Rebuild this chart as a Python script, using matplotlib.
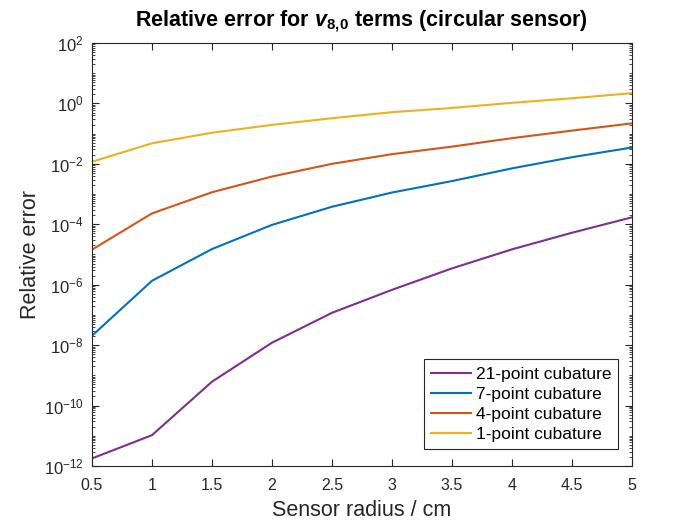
import numpy as np
import matplotlib
matplotlib.use("Agg")
import matplotlib.pyplot as plt
from matplotlib.ticker import FixedLocator, NullFormatter, LogFormatterSciNotation

plt.rcParams['font.family'] = ['Liberation Sans', 'DejaVu Sans']
plt.rcParams['mathtext.fontset'] = 'custom'
plt.rcParams['mathtext.rm'] = 'Liberation Sans'
plt.rcParams['mathtext.it'] = 'Liberation Sans:italic:bold'
plt.rcParams['mathtext.bf'] = 'Liberation Sans:bold'

radius = [0.5, 1.0, 1.5, 2.0, 2.5, 3.0, 3.5, 4.0, 4.5, 5.0]
log_err_21 = [-11.75, -10.98, -9.21, -7.92, -6.93, -6.17, -5.46, -4.83, -4.28, -3.77]
log_err_7 = [-7.69, -5.87, -4.82, -4.02, -3.42, -2.95, -2.57, -2.15, -1.78, -1.46]
log_err_4 = [-4.84, -3.64, -2.94, -2.42, -2.00, -1.68, -1.43, -1.15, -0.90, -0.66]
log_err_1 = [-1.93, -1.32, -0.97, -0.71, -0.49, -0.29, -0.15, 0.02, 0.17, 0.34]

series = [
    ("21-point cubature", log_err_21, "#7E2F8E"),
    ("7-point cubature", log_err_7, "#0072BD"),
    ("4-point cubature", log_err_4, "#D95319"),
    ("1-point cubature", log_err_1, "#EDB120"),
]

fig = plt.figure(figsize=(7, 5.25), dpi=100)
ax = fig.add_axes([0.1314, 0.1124, 0.7714, 0.8057])
dark = "#262626"
for label, vals, color in series:
    ax.plot(radius, 10.0 ** np.array(vals), color=color, lw=1.5, label=label)

ax.set_yscale('log')
ax.set_xlim(0.5, 5)
ax.set_ylim(1e-12, 1e2)
ax.set_xticks([0.5, 1, 1.5, 2, 2.5, 3, 3.5, 4, 4.5, 5])
ax.set_xticklabels(['0.5', '1', '1.5', '2', '2.5', '3', '3.5', '4', '4.5', '5'])
majors = [10.0 ** k for k in range(-12, 3, 2)]
ax.yaxis.set_major_locator(FixedLocator(majors))
ax.yaxis.set_major_formatter(LogFormatterSciNotation())
minors = [j * 10.0 ** k for k in range(-12, 2) for j in range(1, 10) if not (j == 1 and k % 2 == 0)]
ax.yaxis.set_minor_locator(FixedLocator(minors))
ax.yaxis.set_minor_formatter(NullFormatter())

ax.tick_params(which='both', direction='in', top=True, right=True, colors=dark)
ax.tick_params(axis='x', which='major', labelsize=11.5, pad=9)
ax.tick_params(axis='y', which='major', labelsize=12, pad=6)
ax.tick_params(which='major', length=5, width=0.8)
ax.tick_params(which='minor', length=2.5, width=0.6)
ax.tick_params(axis='x', which='minor', bottom=False, top=False)
for s in ax.spines.values():
    s.set_color(dark)
    s.set_linewidth(0.8)

ax.set_xlabel('Sensor radius / cm', fontsize=15.5, color=dark, labelpad=5)
ax.set_ylabel('Relative error', fontsize=15.5, color=dark, labelpad=2)
ax.set_title(r'Relative error for $v_{\mathbf{8,\!0}}$ terms (circular sensor)',
             fontsize=15.5, fontweight='bold', color='black', pad=12)

leg = ax.legend(loc='lower right', bbox_to_anchor=(0.975, 0.04), fontsize=12.5,
                frameon=True, fancybox=False, edgecolor=dark, framealpha=1,
                handlelength=2.3, handletextpad=0.25, borderpad=0.42, labelspacing=0.28,
                borderaxespad=0)
leg.get_frame().set_linewidth(0.8)

fig.savefig('out.png', dpi=100, facecolor='white')
